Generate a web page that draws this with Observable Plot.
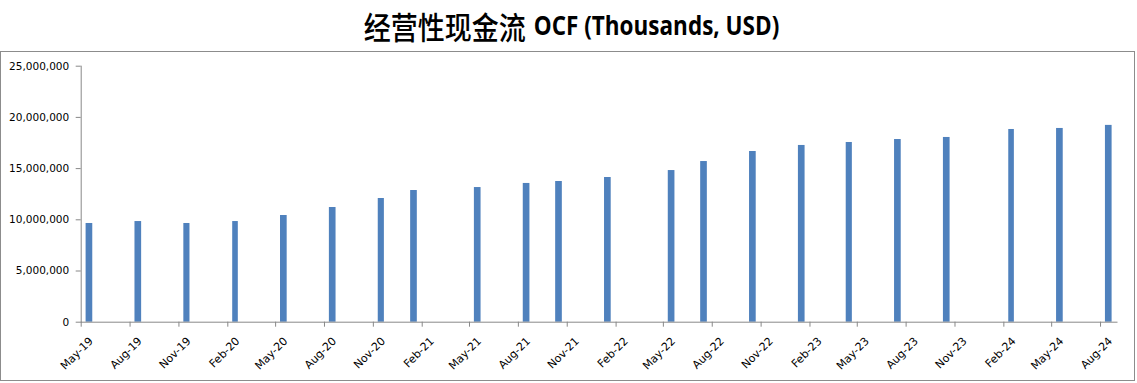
<!DOCTYPE html>
<html><head><meta charset="utf-8">
<script src="https://cdn.jsdelivr.net/npm/d3@7"></script>
<script src="https://cdn.jsdelivr.net/npm/@observablehq/plot@0.6"></script>
<style>
body{margin:0;background:#fff;width:1137px;height:383px;overflow:hidden;position:relative;}
#title{position:absolute;top:0;left:0;width:1137px;height:51px;display:flex;align-items:center;justify-content:center;padding-left:6px;box-sizing:border-box;white-space:nowrap;color:#000;}
#title .zh{font-family:"Noto Sans CJK SC";font-size:27px;font-weight:500;}
#title .en{font-family:"Open Sans";font-size:22.5px;font-weight:700;margin-left:8px;}
#title span{display:inline-block;transform:scaleY(1.15);}
#box{position:absolute;top:51px;left:0;width:1133px;height:328px;border:1px solid #8c8c8c;}
#box svg{display:block;}
</style></head>
<body>
<div id="title"><span class="zh">经营性现金流</span><span class="en">OCF (Thousands, USD)</span></div>
<div id="box"></div>
<script>
const dates = ["2019-05","2019-08","2019-11","2020-02","2020-05","2020-08","2020-11","2021-01","2021-05","2021-08","2021-10","2022-01","2022-05","2022-07","2022-10","2023-01","2023-04","2023-07","2023-10","2024-02","2024-05","2024-08"];
const values = [9640000, 9830000, 9640000, 9830000, 10420000, 11200000, 12080000, 12860000, 13150000, 13550000, 13740000, 14130000, 14810000, 15690000, 16670000, 17260000, 17550000, 17840000, 18040000, 18820000, 18920000, 19220000];
const tickDates = ["2019-05","2019-08","2019-11","2020-02","2020-05","2020-08","2020-11","2021-02","2021-05","2021-08","2021-11","2022-02","2022-05","2022-08","2022-11","2023-02","2023-05","2023-08","2023-11","2024-02","2024-05","2024-08"];
const yTicks = [0, 5000000, 10000000, 15000000, 20000000, 25000000];

const parse = d3.utcParse("%Y-%m");
const data = dates.map((d, i) => ({date: parse(d), value: values[i]}));
const ticks = tickDates.map(parse);
const xDomain = [ticks[0], d3.utcMonth.offset(ticks[ticks.length - 1], 1)];

const chart = Plot.plot({
  width: 1133, height: 328,
  marginLeft: 79.7, marginRight: 17.5, marginTop: 13.7, marginBottom: 58.3,
  style: {fontFamily: "DejaVu Sans", fontSize: "10.5px", color: "#000", background: "#fff", overflow: "visible"},
  x: {type: "utc", domain: xDomain},
  y: {domain: [0, 25000000]},
  marks: [
    Plot.rectY(data, {x: "date", y: "value", interval: d3.utcMonth, insetLeft: 4.9, insetRight: 4.9, fill: "#4F81BD"}),
    Plot.axisY({ticks: yTicks, tickFormat: d3.format(","), tickSize: 5, tickPadding: 7, stroke: "#888", fill: "#000", label: null}),
    Plot.axisX({ticks: ticks, tickSize: 5, text: null, stroke: "#888", label: null}),
    Plot.axisX({ticks: ticks, tickFormat: d3.utcFormat("%b-%y"), tickRotate: -45, tickSize: 0, tickPadding: 9, dx: 10, dy: 8, fill: "#000", fontSize: 11, label: null}),
    Plot.frame({anchor: "left", stroke: "#888"}),
    Plot.frame({anchor: "bottom", stroke: "#888"})
  ]
});
document.getElementById("box").appendChild(chart);
</script>
</body></html>
